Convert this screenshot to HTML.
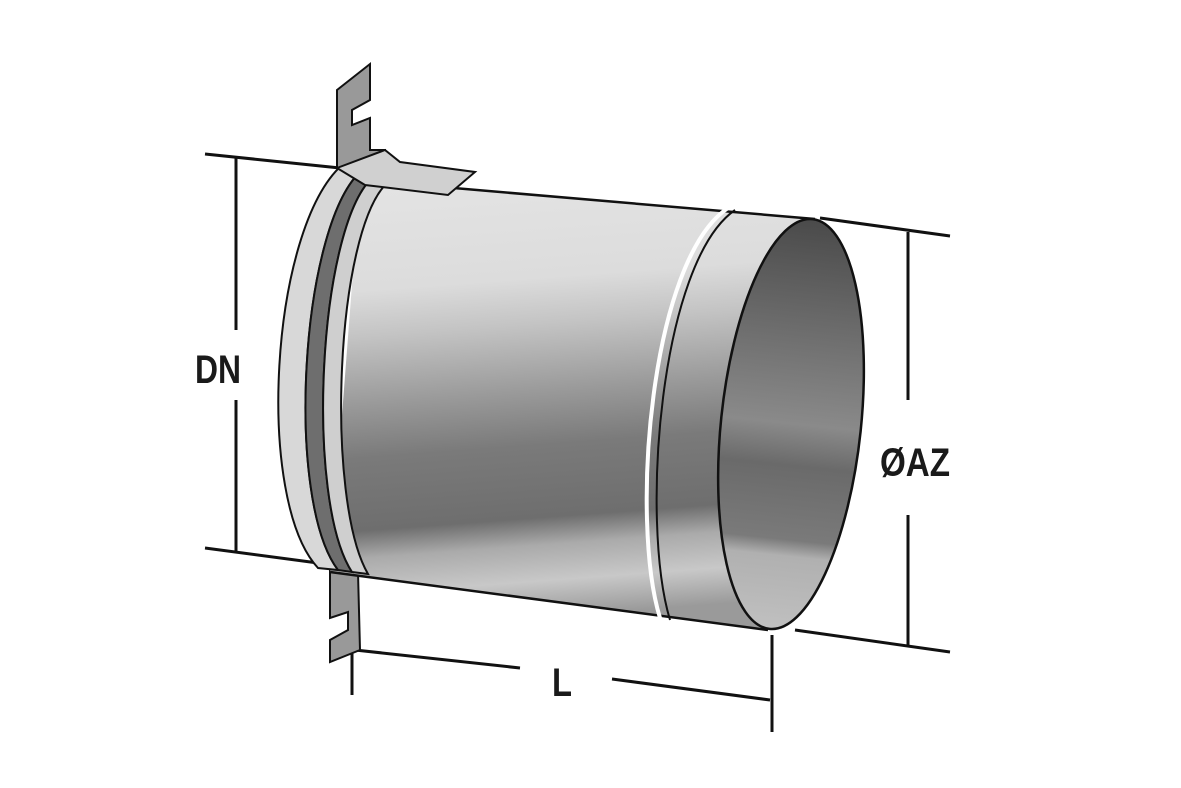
<!DOCTYPE html>
<html><head><meta charset="utf-8"><style>
html,body{margin:0;padding:0;background:#fff;}
svg{display:block;}
text{font-family:"Liberation Sans",sans-serif;font-weight:bold;fill:#1a1a1a;}
</style></head><body>
<svg width="1181" height="788" viewBox="0 0 1181 788" xmlns="http://www.w3.org/2000/svg">
<defs>
<linearGradient id="body" x1="0" y1="0" x2="0.08" y2="1">
<stop offset="0" stop-color="#e4e4e4"/>
<stop offset="0.25" stop-color="#dcdcdc"/>
<stop offset="0.35" stop-color="#c4c4c4"/>
<stop offset="0.5" stop-color="#9a9a9a"/>
<stop offset="0.62" stop-color="#7a7a7a"/>
<stop offset="0.78" stop-color="#6e6e6e"/>
<stop offset="0.84" stop-color="#aaaaaa"/>
<stop offset="0.92" stop-color="#c8c8c8"/>
<stop offset="1" stop-color="#9a9a9a"/>
</linearGradient>
<linearGradient id="inner" x1="0" y1="0" x2="0" y2="1">
<stop offset="0" stop-color="#4a4a4a"/>
<stop offset="0.5" stop-color="#8a8a8a"/>
<stop offset="0.6" stop-color="#6a6a6a"/>
<stop offset="0.78" stop-color="#7a7a7a"/>
<stop offset="0.82" stop-color="#b0b0b0"/>
<stop offset="1" stop-color="#c0c0c0"/>
</linearGradient>
</defs>
<g stroke="#111" stroke-width="3" fill="none">
<line x1="205" y1="154" x2="340" y2="168"/>
<line x1="205" y1="548" x2="318" y2="563"/>
<line x1="236" y1="158" x2="236" y2="330"/>
<line x1="236" y1="400" x2="236" y2="552"/>
<line x1="820" y1="218" x2="950" y2="236"/>
<line x1="795" y1="630" x2="950" y2="652"/>
<line x1="908" y1="232" x2="908" y2="400"/>
<line x1="908" y1="515" x2="908" y2="645"/>
<line x1="352" y1="585" x2="352" y2="695"/>
<line x1="772" y1="635" x2="772" y2="732"/>
<line x1="355" y1="650" x2="520" y2="668"/>
<line x1="612" y1="679" x2="770" y2="700"/>
</g>
<text x="195" y="383" font-size="40" textLength="46" lengthAdjust="spacingAndGlyphs">DN</text>
<text x="880" y="476" font-size="40" textLength="70" lengthAdjust="spacingAndGlyphs">ØAZ</text>
<text x="552" y="696" font-size="40" textLength="20" lengthAdjust="spacingAndGlyphs">L</text>
<path d="M330 570 L358 572 L360 650 L330 662 L330 640 L348 630 L348 612 L330 618 Z" fill="#999" stroke="#111" stroke-width="2"/>
<path d="M360 180 L815 219 L768 630 L330 572 Z" fill="url(#body)" stroke="none"/>
<line x1="360" y1="180" x2="815" y2="219" stroke="#111" stroke-width="2.5"/>
<line x1="330" y1="572" x2="768" y2="630" stroke="#111" stroke-width="2.5"/>
<path d="M342 165 C 270 230, 255 500, 318 568 L 338 570 C 285 500, 300 230, 360 172 Z" fill="#d8d8d8" stroke="#111" stroke-width="2"/>
<path d="M360 172 C 300 230, 285 500, 338 570 L 352 572 C 305 500, 318 230, 372 178 Z" fill="#6e6e6e" stroke="#111" stroke-width="2"/>
<path d="M372 178 C 318 230, 305 500, 352 572 L 368 574 C 325 500, 335 230, 388 182 Z" fill="#cfcfcf" stroke="#111" stroke-width="2"/>
<path d="M728 208 C 650 260, 630 520, 660 618" fill="none" stroke="#fff" stroke-width="4"/>
<path d="M735 210 C 660 262, 640 520, 670 620" fill="none" stroke="#111" stroke-width="2"/>
<ellipse cx="791" cy="424" rx="70" ry="206" transform="rotate(6 791 424)" fill="url(#inner)" stroke="#111" stroke-width="2.5"/>
<path d="M337 90 L370 64 L370 100 L352 110 L352 125 L370 118 L370 150 L385 150 L385 165 L337 168 Z" fill="#999" stroke="#111" stroke-width="2"/>
<path d="M337 168 L385 150 L400 162 L475 172 L448 195 L365 185 Z" fill="#d0d0d0" stroke="#111" stroke-width="2"/>
</svg>
</body></html>
